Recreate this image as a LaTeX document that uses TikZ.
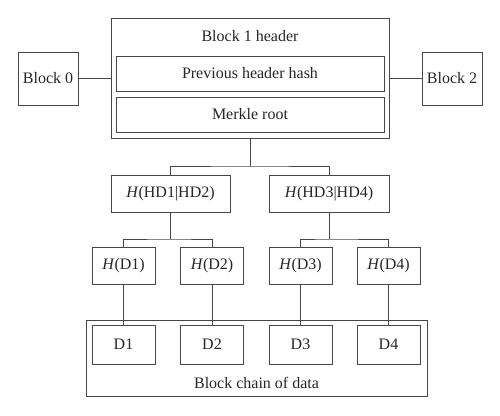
\documentclass[tikz,border=0pt]{standalone}
\usepackage{fontspec}
\setmainfont{Liberation Serif}
\begin{document}
\begin{tikzpicture}[x=1pt,y=-1pt,
  ln/.style={draw=black!72,line width=1pt},
  bx/.style={ln,rectangle,inner sep=0pt,font=\fontsize{16}{19}\selectfont,text=black!85},
  txt/.style={inner sep=0pt,font=\fontsize{16}{19}\selectfont,text=black!85}]
\useasboundingbox[fill=white] (0,0) rectangle (500,415);
% top
\node[bx,minimum width=278pt,minimum height=120pt] (block1) at (250,78) {};
\node[txt] (title) at (250,36) {Block 1 header};
\node[bx,minimum width=268pt,minimum height=35pt] (prev) at (250,73.5) {Previous header hash};
\node[bx,minimum width=268pt,minimum height=35pt] (merkle) at (250,114.5) {Merkle root};
\node[bx,minimum width=60pt,minimum height=53pt] (b0) at (48,78.5) {Block 0};
\node[bx,minimum width=60pt,minimum height=53pt] (b2) at (452,78.5) {Block 2};
% hash level 1
\node[bx,minimum width=119pt,minimum height=37pt] (hd12) at (170.5,193.5) {\textit{H}(HD1|HD2)};
\node[bx,minimum width=120pt,minimum height=37pt] (hd34) at (329,193.5) {\textit{H}(HD3|HD4)};
% hash level 2
\node[bx,minimum width=63pt,minimum height=37pt] (hd1) at (123.5,265.5) {\textit{H}(D1)};
\node[bx,minimum width=63pt,minimum height=37pt] (hd2) at (212,265.5) {\textit{H}(D2)};
\node[bx,minimum width=63pt,minimum height=37pt] (hd3) at (300.5,265.5) {\textit{H}(D3)};
\node[bx,minimum width=63pt,minimum height=37pt] (hd4) at (388.5,265.5) {\textit{H}(D4)};
% data
\node[bx,minimum width=341pt,minimum height=76pt] (chain) at (256.5,358.5) {};
\node[bx,minimum width=63pt,minimum height=39pt] (d1) at (123.5,344.5) {D1};
\node[bx,minimum width=63pt,minimum height=39pt] (d2) at (212,344.5) {D2};
\node[bx,minimum width=63pt,minimum height=39pt] (d3) at (300.5,344.5) {D3};
\node[bx,minimum width=63pt,minimum height=39pt] (d4) at (388.5,344.5) {D4};
\node[txt] (chainlbl) at (256.5,383) {Block chain of data};
% junctions
\coordinate (j0) at (250,166);
\coordinate (j1) at (170.5,239);
\coordinate (j2) at (329,239);
% connectors
\draw[ln] (b0.east) -- (b0.east -| block1.west);
\draw[ln] (b2.west) -- (b2.west -| block1.east);
\draw[ln] (block1.south) -- (j0);
\draw[ln] (hd12.north) |- (j0) -| (hd34.north);
\draw[ln] (hd12.south) -- (j1);
\draw[ln] (hd1.north) |- (j1) -| (hd2.north);
\draw[ln] (hd34.south) -- (j2);
\draw[ln] (hd3.north) |- (j2) -| (hd4.north);
\draw[ln] (hd1.south) -- (d1.north);
\draw[ln] (hd2.south) -- (d2.north);
\draw[ln] (hd3.south) -- (d3.north);
\draw[ln] (hd4.south) -- (d4.north);
\end{tikzpicture}
\end{document}
